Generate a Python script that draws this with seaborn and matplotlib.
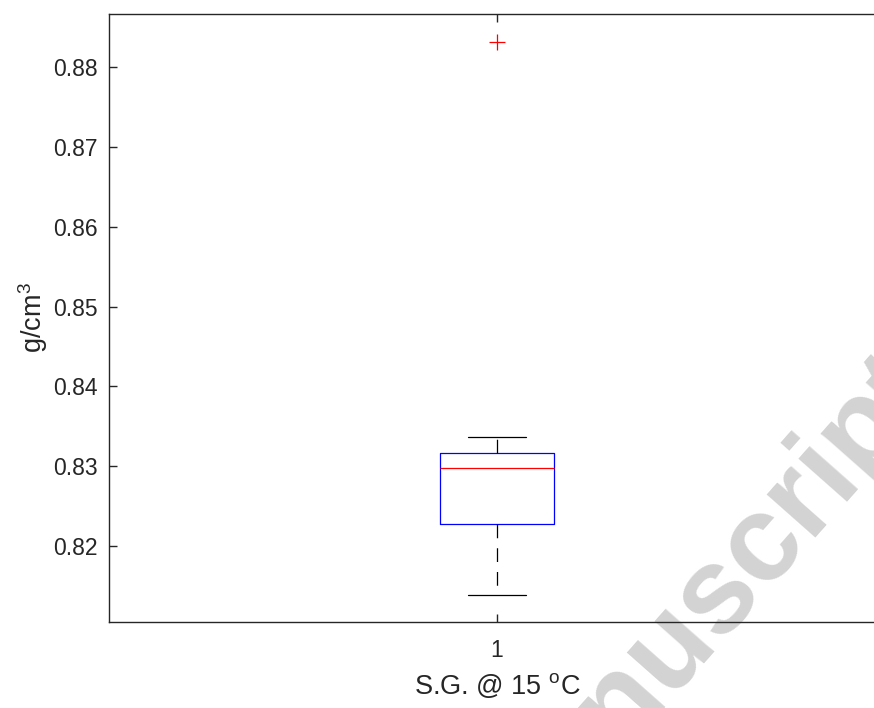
import numpy as np
import pandas as pd
import matplotlib
matplotlib.use("Agg")
import matplotlib.pyplot as plt
import seaborn as sns

# Specific gravity samples (g/cm3)
sg_values = [0.81386, 0.8185, 0.82276, 0.8265, 0.82977, 0.8305, 0.83165, 0.83365, 0.88313]
group_labels = ["1"] * len(sg_values)
y_ticks = [0.82, 0.83, 0.84, 0.85, 0.86, 0.87, 0.88]

df = pd.DataFrame({"group": group_labels, "sg": sg_values})

sns.set_style("ticks")
plt.rcParams["font.family"] = ["Liberation Sans", "DejaVu Sans"]
plt.rcParams["mathtext.fontset"] = "custom"
plt.rcParams["mathtext.rm"] = "Liberation Sans"
plt.rcParams["mathtext.it"] = "Liberation Sans:italic"

dark = "#262626"
fig = plt.figure(figsize=(8.74, 7.08), dpi=100, facecolor="white")
ax = fig.add_axes([109 / 874, 86 / 708, 776 / 874, 608 / 708])
ax.set_facecolor("none")

sns.boxplot(data=df, x="group", y="sg", ax=ax, fill=False, width=0.147, whis=1.5,
            boxprops=dict(color="blue", linewidth=0.9),
            medianprops=dict(color="red", linewidth=0.9),
            whiskerprops=dict(color="black", linewidth=0.9, linestyle=(0, (11, 8))),
            capprops=dict(color="black", linewidth=0.9),
            flierprops=dict(marker="+", markeredgecolor="red", markersize=11, markeredgewidth=0.9))

ax.set_xlim(-0.5, 0.5)
ax.set_ylim(0.81048, 0.88664)
ax.set_yticks(y_ticks)
ax.set_yticklabels([f"{t:.2f}" for t in y_ticks])
ax.set_xticks([0])
ax.set_xticklabels(["1"])

for side in ["top", "right", "left", "bottom"]:
    ax.spines[side].set_visible(True)
    ax.spines[side].set_color(dark)
    ax.spines[side].set_linewidth(1.0)
ax.tick_params(axis="both", direction="in", length=6, width=1.0, color=dark,
               labelcolor=dark, labelsize=16.5, top=True, right=True)
ax.tick_params(axis="y", pad=8)
ax.tick_params(axis="x", pad=12)

ax.set_xlabel("S.G. @ 15 $^{\\mathrm{o}}$C", fontsize=19.5, color=dark, labelpad=7)
ax.set_ylabel("g/cm$^{3}$", fontsize=19.5, color=dark, labelpad=2)

# watermark of the source page
fig.text(508 / 874, (708 - 837) / 708, "Accepted Manuscript", fontsize=88, fontweight="bold",
         color="#d3d3d3", rotation=48.5, rotation_mode="anchor", ha="center", va="center",
         zorder=-1)

fig.savefig("out.png", dpi=100, facecolor="white")
